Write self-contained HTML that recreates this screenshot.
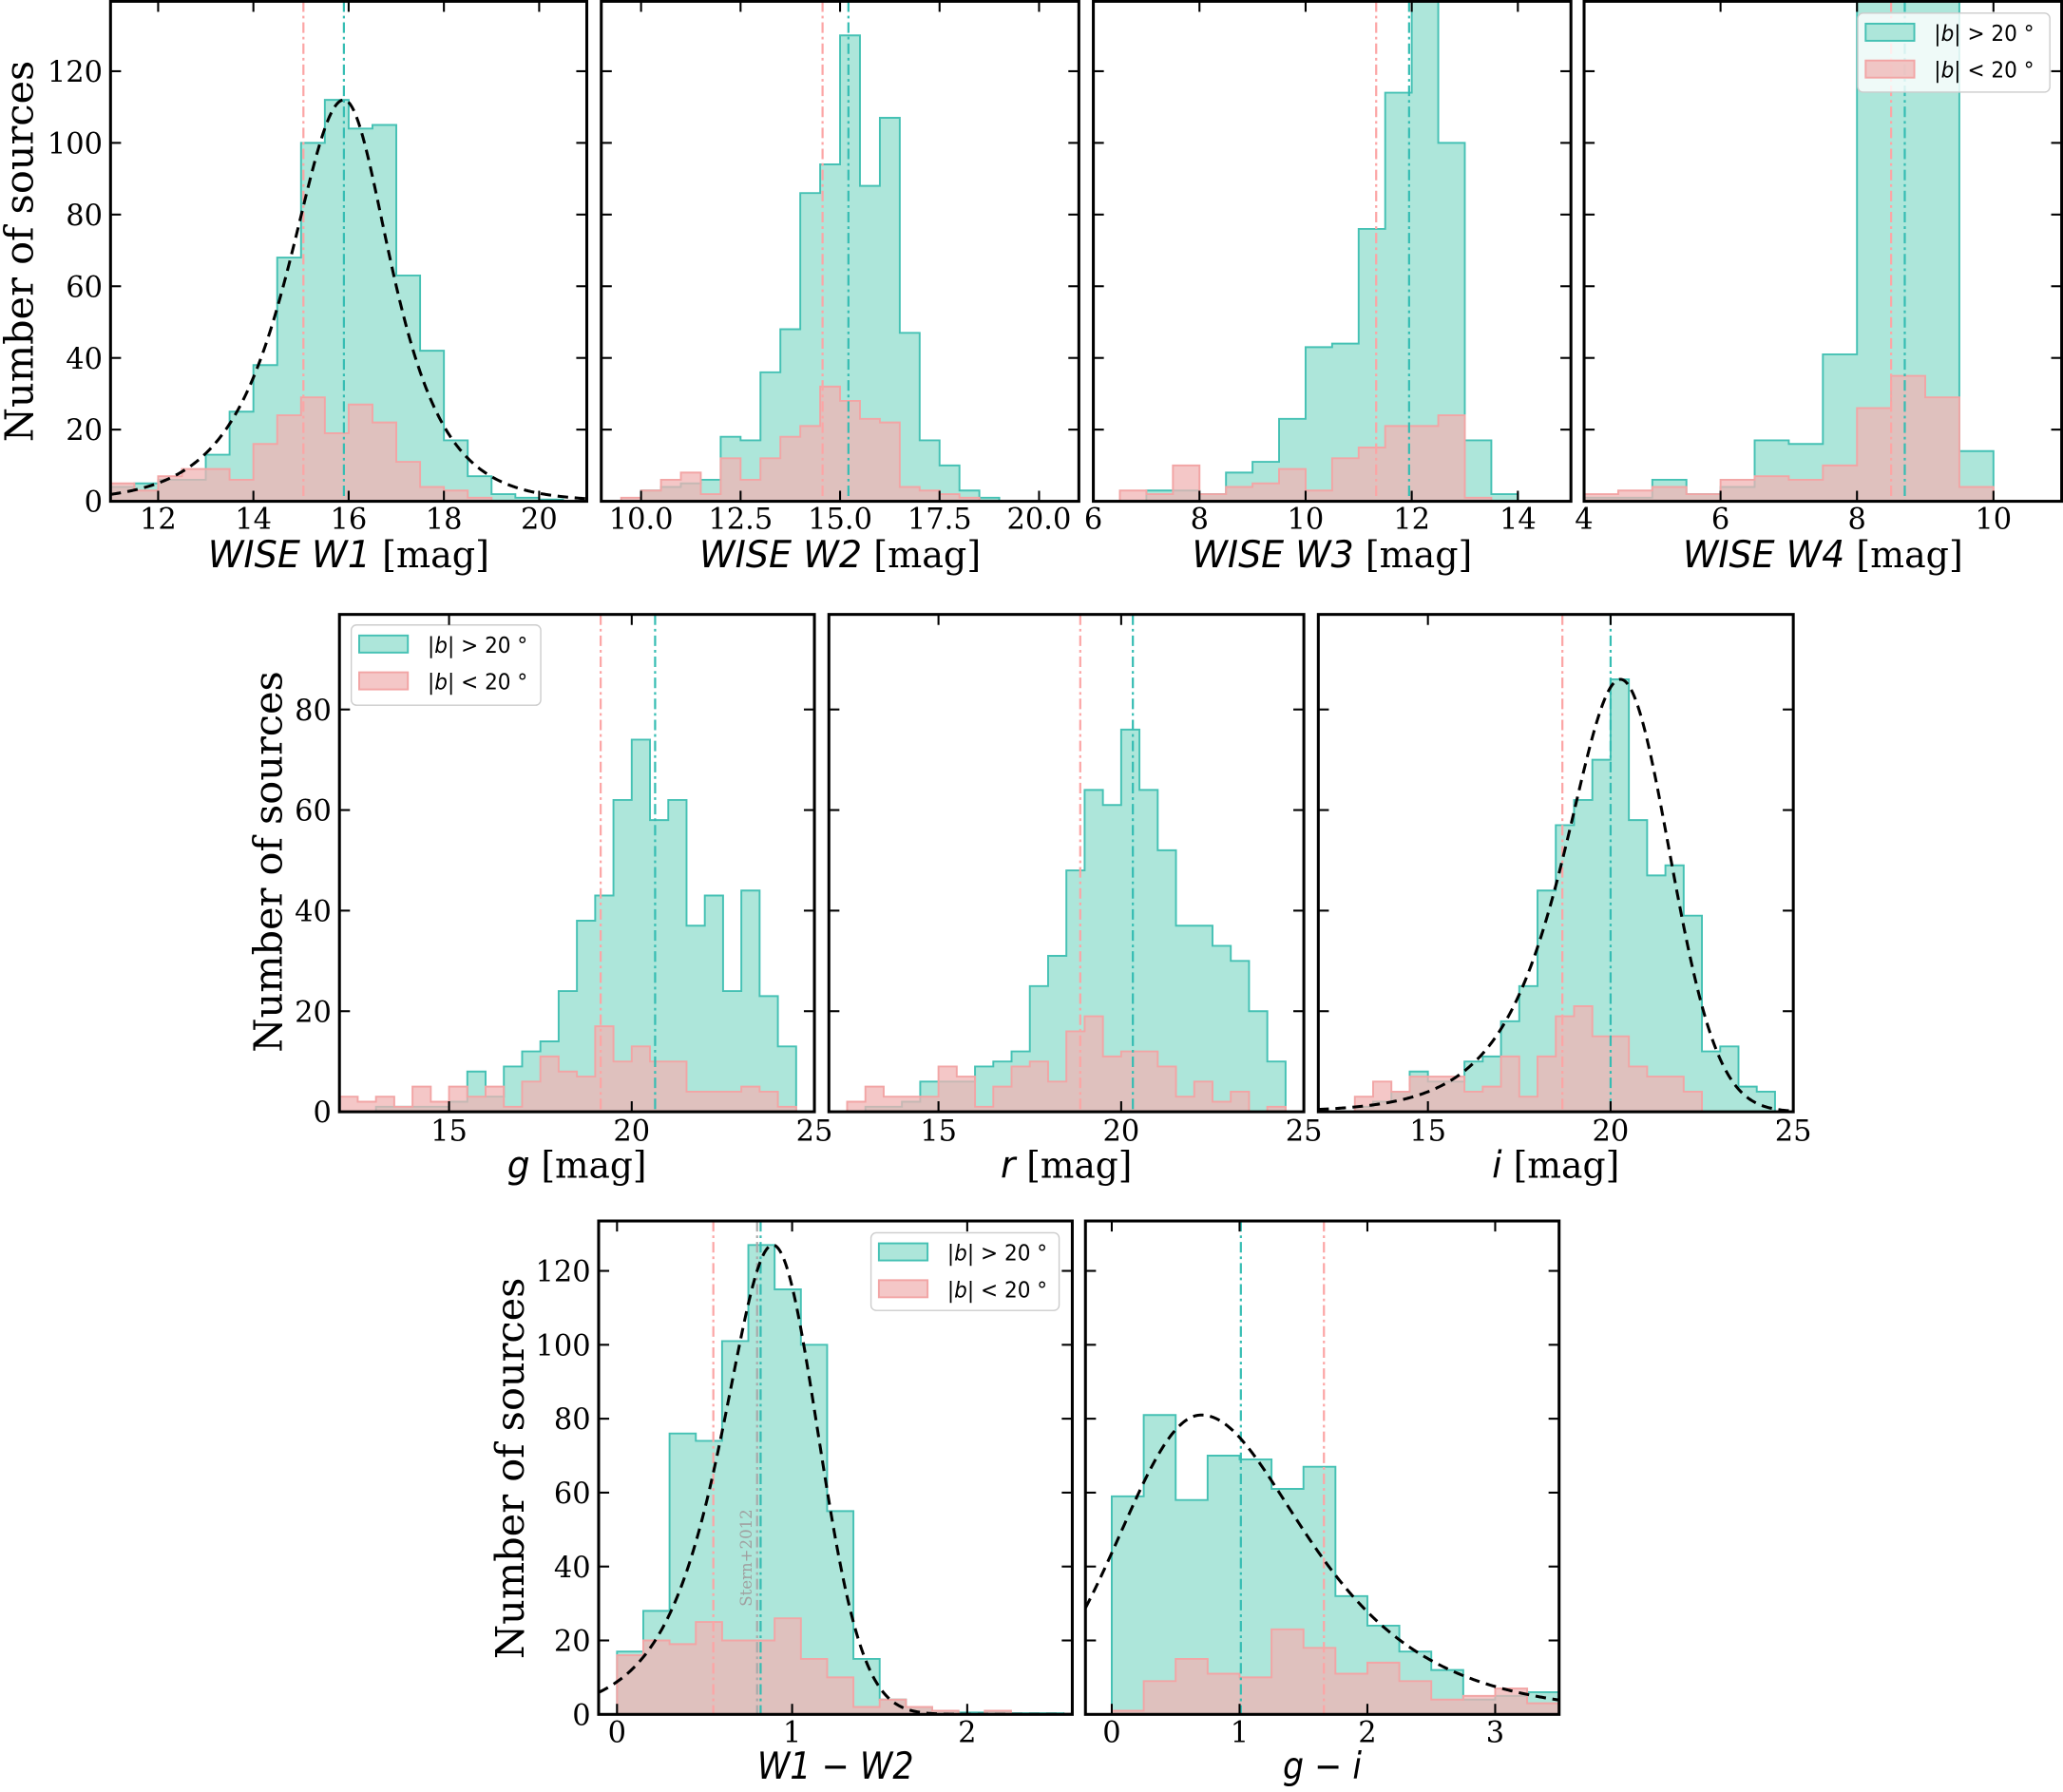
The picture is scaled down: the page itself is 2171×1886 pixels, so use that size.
<!DOCTYPE html>
<html><head><meta charset="utf-8">
<style>
html,body{margin:0;padding:0;background:#fff;}
svg{display:block;}
</style></head>
<body>
<svg id="s" xmlns="http://www.w3.org/2000/svg" width="2171" height="1886" viewBox="0 0 1568 1362" preserveAspectRatio="none"></svg>
<script>
const NS="http://www.w3.org/2000/svg";
const S=document.getElementById('s');
function el(tag,attrs,parent,text){const e=document.createElementNS(NS,tag);for(const k in attrs)e.setAttribute(k,attrs[k]);if(text!==undefined)e.textContent=text;(parent||S).appendChild(e);return e;}
const CF="#ade6da",CE="#45c1b4",PF="rgba(240,180,180,0.75)",PE="#f2a5a5",VC="#36bdb3",VP="#fca5a5";
const SERIF='"DejaVu Serif","Liberation Serif",serif', SANS='"DejaVu Sans","Liberation Sans",sans-serif';
function sech(x){return 1/Math.cosh(x);}
let cid=0;
function panel(p){
  const sx=v=>p.x0+(v-p.xr[0])/(p.xr[1]-p.xr[0])*(p.x1-p.x0);
  const sy=v=>p.y1-v/p.ymax*(p.y1-p.y0);
  const id='c'+(cid++);
  const cp=el('clipPath',{id:id});el('rect',{x:p.x0,y:p.y0,width:p.x1-p.x0,height:p.y1-p.y0},cp);
  const g=el('g',{'clip-path':'url(#'+id+')'});
  function hist(start,w,vals,fill,stroke){
    let d='M'+sx(start)+' '+sy(0);
    vals.forEach((c,i)=>{d+=' L'+sx(start+i*w)+' '+sy(c)+' L'+sx(start+(i+1)*w)+' '+sy(c);});
    d+=' L'+sx(start+vals.length*w)+' '+sy(0)+' Z';
    el('path',{d:d,fill:fill,stroke:stroke,'stroke-width':1.4,'stroke-linejoin':'miter'},g);
  }
  hist(p.cs,p.w,p.cyan,CF,CE);
  hist(p.ps,p.w,p.pink,PF,PE);
  (p.vl||[]).forEach(v=>{el('line',{x1:sx(v[0]),x2:sx(v[0]),y1:p.y0,y2:p.y1,stroke:v[1],'stroke-width':1.6,'stroke-dasharray':'8,3,2,3'},g);});
  if(p.f){
    let d='';
    for(let i=0;i<=400;i++){const x=p.xr[0]+(p.xr[1]-p.xr[0])*i/400;d+=(i?' L':'M')+sx(x).toFixed(2)+' '+sy(p.f(x)).toFixed(2);}
    el('path',{d:d,fill:'none',stroke:'#000','stroke-width':2.2,'stroke-dasharray':'8,5'},g);
  }
  if(p.stern){
    el('text',{x:0,y:0,transform:'translate('+(sx(0.8)-4)+','+p.stern+') rotate(-90)','font-family':SERIF,'font-size':12,fill:'#a0a0a0','text-anchor':'middle',textLength:74,lengthAdjust:'spacingAndGlyphs'},S,'Stern+2012');
  }
  if(p.leg){
    const bx=p.leg[0],by=p.leg[1],bw=p.leg[2],bh=p.leg[3];
    el('rect',{x:bx,y:by,width:bw,height:bh,rx:4,fill:'rgba(255,255,255,0.8)',stroke:'#cccccc','stroke-width':1});
    const rows=[[CF,CE,'>'],[PF,PE,'<']];
    rows.forEach((r,i)=>{
      const py=by+8+i*28;
      el('rect',{x:bx+6,y:py,width:37,height:13,fill:r[0],stroke:r[1],'stroke-width':1.4});
      const t=el('text',{x:bx+58,y:py+13,'font-family':SANS,'font-size':17,fill:'#000',textLength:76,lengthAdjust:'spacingAndGlyphs'});
      el('tspan',{},t,'|');el('tspan',{'font-style':'italic'},t,'b');el('tspan',{},t,'| '+r[2]+' 20 °');
    });
  }
  el('rect',{x:p.x0,y:p.y0,width:p.x1-p.x0,height:p.y1-p.y0,fill:'none',stroke:'#000','stroke-width':2.2});
  const tk={stroke:'#000','stroke-width':1.5};
  p.xt.forEach(v=>{const X=sx(v);el('line',Object.assign({x1:X,x2:X,y1:p.y1,y2:p.y1-8},tk));el('line',Object.assign({x1:X,x2:X,y1:p.y0,y2:p.y0+8},tk));
    el('text',{x:X,y:p.xtb,'font-family':SERIF,'font-size':22,'text-anchor':'middle'},S,p.xfmt?p.xfmt(v):String(v));});
  p.yt.forEach(v=>{const Y=sy(v);el('line',Object.assign({x1:p.x0,x2:p.x0+8,y1:Y,y2:Y},tk));el('line',Object.assign({x1:p.x1,x2:p.x1-8,y1:Y,y2:Y},tk));
    if(p.ylab)el('text',{x:p.x0-6,y:Y+8,'font-family':SERIF,'font-size':22,'text-anchor':'end'},S,String(v));});
  // x label
  const t=el('text',{x:(p.x0+p.x1)/2,y:p.xlb,'font-size':28,'text-anchor':'middle',textLength:p.xlw,lengthAdjust:'spacingAndGlyphs'});
  p.xl.forEach(s=>{el('tspan',{'font-family':s[1]?SANS:SERIF,'font-style':s[1]?'italic':'normal'},t,s[0]);});
  if(p.ylpos){el('text',{x:0,y:0,transform:'translate('+p.ylpos[0]+','+p.ylpos[1]+') rotate(-90)','font-family':SERIF,'font-size':30,'text-anchor':'middle',textLength:290,lengthAdjust:'spacingAndGlyphs'},S,'Number of sources');}
}
const Y120=[0,20,40,60,80,100,120], Y80=[0,20,40,60,80];
const r1={y0:1,y1:381,ymax:139.5,yt:Y120,xtb:402,xlb:431};
const r2={y0:467,y1:845,ymax:98.9,yt:Y80,xtb:867,xlb:895};
const r3={y0:928,y1:1303,ymax:133.5,yt:Y120,xtb:1324,xlb:1352};
const f1=x=>{const d=x-15.9;return 112*sech(d/(d<0?1.03:0.89));};
const f7=x=>{const d=x-20.27;return d<0?86*sech(d/1.4):86*Math.exp(-d*d/(2*1.33*1.33));};
const f8=x=>{const d=x-0.89;return d<0?127*sech(d/0.265):127*Math.exp(-d*d/(2*0.255*0.255));};
const f9=x=>{const d=x-0.7;return d<0?81*Math.exp(-d*d/(2*0.63*0.63)):81*sech(d/0.75);};
const P=[
 Object.assign({},r1,{x0:84,x1:446,xr:[11,21],w:0.5,cs:11,ps:11,
  cyan:[4,5,6,6,13,25,38,68,100,112,104,105,63,42,17,7,2,1,0.5],
  pink:[5,3,7,9,9,6,16,24,29,19,27,22,11,4,3,1],
  vl:[[15.05,VP],[15.9,VC]],f:f1,xt:[12,14,16,18,20],ylab:true,xl:[['WISE W1',1],[' [mag]',0]],xlw:214,ylpos:[25,191]}),
 Object.assign({},r1,{x0:457,x1:820,xr:[9,21],w:0.5,cs:9.5,ps:9.5,
  cyan:[0,3,4,5,6,18,17,36,48,86,94,130,88,107,47,17,10,3,1],
  pink:[1,3,6,8,2,12,6,12,18,21,32,28,23,22,4,3,2,1],
  vl:[[14.56,VP],[15.21,VC]],xt:[10,12.5,15,17.5,20],xfmt:v=>v.toFixed(1),xl:[['WISE W2',1],[' [mag]',0]],xlw:214}),
 Object.assign({},r1,{x0:831,x1:1194,xr:[6,15],w:0.5,cs:6.5,ps:6.5,
  cyan:[0,3,3,2,8,11,23,43,44,76,114,160,100,17,2],
  pink:[3,2,10,2,4,5,9,3,12,15,21,21,24,1],
  vl:[[11.33,VP],[11.95,VC]],xt:[6,8,10,12,14],xl:[['WISE W3',1],[' [mag]',0]],xlw:213}),
 Object.assign({},r1,{x0:1204,x1:1567,xr:[4,11],w:0.5,cs:4,ps:4,
  cyan:[1,1,6,2,4,17,16,41,160,160,160,14],
  pink:[2,3,4,2,6,7,6,10,26,35,29,4],
  vl:[[8.5,VP],[8.7,VC]],xt:[4,6,8,10],xl:[['WISE W4',1],[' [mag]',0]],xlw:213,leg:[1412,10,146,60]}),
 Object.assign({},r2,{x0:258,x1:619,xr:[12,25],w:0.5,cs:12,ps:12,
  cyan:[0,0,1,1,1,1,2,8,3,9,12,14,24,38,43,62,74,58,62,37,43,24,44,23,13],
  pink:[3,2,3,1,5,2,5,3,5,1,6,11,8,7,17,10,13,10,10,4,4,4,5,4,1],
  vl:[[19.15,VP],[20.64,VC]],xt:[15,20,25],ylab:true,xl:[['g',1],[' [mag]',0]],xlw:106,ylpos:[214,655],leg:[267,475,144,61]}),
 Object.assign({},r2,{x0:630,x1:991,xr:[12,25],w:0.5,cs:12.5,ps:12.5,
  cyan:[0,1,1,2,6,6,6,9,10,12,25,31,48,64,61,76,64,52,37,37,33,30,20,10],
  pink:[2,5,3,3,3,9,7,1,5,9,10,6,16,19,11,12,12,9,3,6,2,4,0,1],
  vl:[[18.88,VP],[20.32,VC]],xt:[15,20,25],xl:[['r',1],[' [mag]',0]],xlw:100}),
 Object.assign({},r2,{x0:1002,x1:1363,xr:[12,25],w:0.5,cs:13,ps:13,
  cyan:[1,2,4,8,6,6,10,11,18,25,44,57,62,70,86,58,47,49,39,12,13,5,4],
  pink:[3,6,4,7,7,7,4,5,11,3,11,19,21,15,15,9,7,7,4],
  vl:[[18.68,VP],[20.0,VC]],f:f7,xt:[15,20,25],xl:[['i',1],[' [mag]',0]],xlw:97}),
 Object.assign({},r3,{x0:455,x1:815,xr:[-0.105,2.6],w:0.15,cs:0,ps:0,
  cyan:[17,28,76,74,101,127,115,100,55,15,4,2,1,0.5,0.5,0.3,0.3],
  pink:[16,20,19,25,20,20,26,15,10,2,4,2,1,0,1,0],
  vl:[[0.55,VP],[0.8,'#aaaaaa'],[0.82,VC]],f:f8,stern:1184,xt:[0,1,2],ylab:true,xl:[['W1 − W2',1]],xlw:119,ylpos:[398,1116],leg:[662,937,143,59]}),
 Object.assign({},r3,{x0:825,x1:1185,xr:[-0.206,3.5],w:0.25,cs:0,ps:0,
  cyan:[59,81,58,70,69,61,67,32,24,17,12,4,5,6],
  pink:[1,9,15,11,10,23,18,11,14,9,4,5,7,3],
  vl:[[1.01,VC],[1.66,VP]],f:f9,xt:[0,1,2,3],xl:[['g − i',1]],xlw:60})
];
P.forEach(panel);
</script>
</body></html>
